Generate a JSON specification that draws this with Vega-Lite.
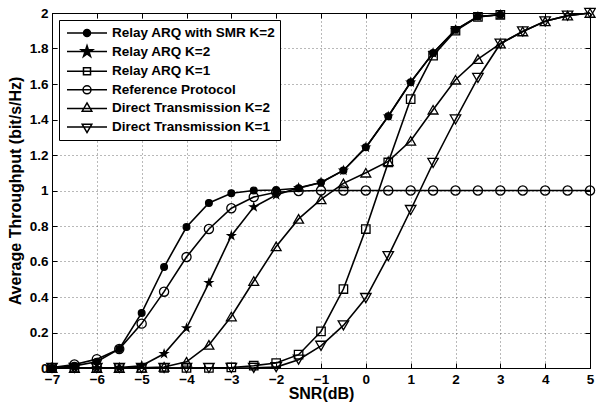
{
  "$schema": "https://vega.github.io/schema/vega-lite/v6.json",
  "autosize": "none",
  "width": 538,
  "height": 355,
  "padding": {"left": 52, "top": 13, "right": 6, "bottom": 40},
  "background": "white",
  "config": {
    "font": "Liberation Sans",
    "view": {"stroke": "black", "strokeWidth": 1},
    "legend": {
      "labelFont": "Liberation Sans", "labelFontSize": 13.5, "labelFontWeight": "bold", "labelColor": "black",
      "labelLimit": 400
    },
    "axis": {
      "domainColor": "black",
      "tickColor": "black",
      "labelColor": "black",
      "titleColor": "black",
      "labelFont": "Liberation Sans",
      "titleFont": "Liberation Sans",
      "labelFontWeight": "bold",
      "titleFontWeight": "bold",
      "labelFontSize": 13.5,
      "titleFontSize": 16,
      "tickSize": -5,
      "labelPadding": 9,
      "labelFlush": false,
      "labelOverlap": false
    }
  },
  "data": {
    "values": [
      {"s": "Relay ARQ with SMR K=2", "x": -7, "y": 0},
      {"s": "Relay ARQ with SMR K=2", "x": -6.5, "y": 0.012},
      {"s": "Relay ARQ with SMR K=2", "x": -6, "y": 0.035},
      {"s": "Relay ARQ with SMR K=2", "x": -5.5, "y": 0.107},
      {"s": "Relay ARQ with SMR K=2", "x": -5, "y": 0.31},
      {"s": "Relay ARQ with SMR K=2", "x": -4.5, "y": 0.569},
      {"s": "Relay ARQ with SMR K=2", "x": -4, "y": 0.794},
      {"s": "Relay ARQ with SMR K=2", "x": -3.5, "y": 0.93},
      {"s": "Relay ARQ with SMR K=2", "x": -3, "y": 0.985},
      {"s": "Relay ARQ with SMR K=2", "x": -2.5, "y": 1.0},
      {"s": "Relay ARQ with SMR K=2", "x": -2, "y": 1.003},
      {"s": "Relay ARQ with SMR K=2", "x": -1.5, "y": 1.013},
      {"s": "Relay ARQ with SMR K=2", "x": -1, "y": 1.045},
      {"s": "Relay ARQ with SMR K=2", "x": -0.5, "y": 1.113},
      {"s": "Relay ARQ with SMR K=2", "x": 0, "y": 1.243},
      {"s": "Relay ARQ with SMR K=2", "x": 0.5, "y": 1.418},
      {"s": "Relay ARQ with SMR K=2", "x": 1, "y": 1.61},
      {"s": "Relay ARQ with SMR K=2", "x": 1.5, "y": 1.775},
      {"s": "Relay ARQ with SMR K=2", "x": 2, "y": 1.905},
      {"s": "Relay ARQ with SMR K=2", "x": 2.5, "y": 1.98},
      {"s": "Relay ARQ with SMR K=2", "x": 3, "y": 1.99},

      {"s": "Relay ARQ K=2", "x": -7, "y": 0},
      {"s": "Relay ARQ K=2", "x": -6.5, "y": 0},
      {"s": "Relay ARQ K=2", "x": -6, "y": 0},
      {"s": "Relay ARQ K=2", "x": -5.5, "y": 0.002},
      {"s": "Relay ARQ K=2", "x": -5, "y": 0.013},
      {"s": "Relay ARQ K=2", "x": -4.5, "y": 0.08},
      {"s": "Relay ARQ K=2", "x": -4, "y": 0.225},
      {"s": "Relay ARQ K=2", "x": -3.5, "y": 0.48},
      {"s": "Relay ARQ K=2", "x": -3, "y": 0.745},
      {"s": "Relay ARQ K=2", "x": -2.5, "y": 0.907},
      {"s": "Relay ARQ K=2", "x": -2, "y": 0.975},
      {"s": "Relay ARQ K=2", "x": -1.5, "y": 1.015},
      {"s": "Relay ARQ K=2", "x": -1, "y": 1.045},
      {"s": "Relay ARQ K=2", "x": -0.5, "y": 1.113},
      {"s": "Relay ARQ K=2", "x": 0, "y": 1.243},
      {"s": "Relay ARQ K=2", "x": 0.5, "y": 1.418},
      {"s": "Relay ARQ K=2", "x": 1, "y": 1.61},
      {"s": "Relay ARQ K=2", "x": 1.5, "y": 1.775},
      {"s": "Relay ARQ K=2", "x": 2, "y": 1.905},
      {"s": "Relay ARQ K=2", "x": 2.5, "y": 1.98},
      {"s": "Relay ARQ K=2", "x": 3, "y": 1.99},

      {"s": "Relay ARQ K=1", "x": -7, "y": 0},
      {"s": "Relay ARQ K=1", "x": -6.5, "y": 0},
      {"s": "Relay ARQ K=1", "x": -6, "y": 0},
      {"s": "Relay ARQ K=1", "x": -5.5, "y": 0},
      {"s": "Relay ARQ K=1", "x": -5, "y": 0},
      {"s": "Relay ARQ K=1", "x": -4.5, "y": 0},
      {"s": "Relay ARQ K=1", "x": -4, "y": 0},
      {"s": "Relay ARQ K=1", "x": -3.5, "y": 0.001},
      {"s": "Relay ARQ K=1", "x": -3, "y": 0.003},
      {"s": "Relay ARQ K=1", "x": -2.5, "y": 0.013},
      {"s": "Relay ARQ K=1", "x": -2, "y": 0.028},
      {"s": "Relay ARQ K=1", "x": -1.5, "y": 0.075},
      {"s": "Relay ARQ K=1", "x": -1, "y": 0.206},
      {"s": "Relay ARQ K=1", "x": -0.5, "y": 0.445},
      {"s": "Relay ARQ K=1", "x": 0, "y": 0.783},
      {"s": "Relay ARQ K=1", "x": 0.5, "y": 1.158},
      {"s": "Relay ARQ K=1", "x": 1, "y": 1.515},
      {"s": "Relay ARQ K=1", "x": 1.5, "y": 1.76},
      {"s": "Relay ARQ K=1", "x": 2, "y": 1.9},
      {"s": "Relay ARQ K=1", "x": 2.5, "y": 1.978},
      {"s": "Relay ARQ K=1", "x": 3, "y": 1.99},

      {"s": "Reference Protocol", "x": -7, "y": 0.002},
      {"s": "Reference Protocol", "x": -6.5, "y": 0.02},
      {"s": "Reference Protocol", "x": -6, "y": 0.05},
      {"s": "Reference Protocol", "x": -5.5, "y": 0.107},
      {"s": "Reference Protocol", "x": -5, "y": 0.25},
      {"s": "Reference Protocol", "x": -4.5, "y": 0.43},
      {"s": "Reference Protocol", "x": -4, "y": 0.625},
      {"s": "Reference Protocol", "x": -3.5, "y": 0.783},
      {"s": "Reference Protocol", "x": -3, "y": 0.9},
      {"s": "Reference Protocol", "x": -2.5, "y": 0.963},
      {"s": "Reference Protocol", "x": -2, "y": 0.99},
      {"s": "Reference Protocol", "x": -1.5, "y": 0.997},
      {"s": "Reference Protocol", "x": -1, "y": 1},
      {"s": "Reference Protocol", "x": -0.5, "y": 1},
      {"s": "Reference Protocol", "x": 0, "y": 1},
      {"s": "Reference Protocol", "x": 0.5, "y": 1},
      {"s": "Reference Protocol", "x": 1, "y": 1},
      {"s": "Reference Protocol", "x": 1.5, "y": 1},
      {"s": "Reference Protocol", "x": 2, "y": 1},
      {"s": "Reference Protocol", "x": 2.5, "y": 1},
      {"s": "Reference Protocol", "x": 3, "y": 1},
      {"s": "Reference Protocol", "x": 3.5, "y": 1},
      {"s": "Reference Protocol", "x": 4, "y": 1},
      {"s": "Reference Protocol", "x": 4.5, "y": 1},
      {"s": "Reference Protocol", "x": 5, "y": 1},

      {"s": "Direct Transmission K=2", "x": -7, "y": 0},
      {"s": "Direct Transmission K=2", "x": -6.5, "y": 0},
      {"s": "Direct Transmission K=2", "x": -6, "y": 0},
      {"s": "Direct Transmission K=2", "x": -5.5, "y": 0},
      {"s": "Direct Transmission K=2", "x": -5, "y": 0.001},
      {"s": "Direct Transmission K=2", "x": -4.5, "y": 0.006},
      {"s": "Direct Transmission K=2", "x": -4, "y": 0.035},
      {"s": "Direct Transmission K=2", "x": -3.5, "y": 0.13},
      {"s": "Direct Transmission K=2", "x": -3, "y": 0.29},
      {"s": "Direct Transmission K=2", "x": -2.5, "y": 0.49},
      {"s": "Direct Transmission K=2", "x": -2, "y": 0.685},
      {"s": "Direct Transmission K=2", "x": -1.5, "y": 0.84},
      {"s": "Direct Transmission K=2", "x": -1, "y": 0.95},
      {"s": "Direct Transmission K=2", "x": -0.5, "y": 1.04},
      {"s": "Direct Transmission K=2", "x": 0, "y": 1.1},
      {"s": "Direct Transmission K=2", "x": 0.5, "y": 1.164},
      {"s": "Direct Transmission K=2", "x": 1, "y": 1.28},
      {"s": "Direct Transmission K=2", "x": 1.5, "y": 1.455},
      {"s": "Direct Transmission K=2", "x": 2, "y": 1.624},
      {"s": "Direct Transmission K=2", "x": 2.5, "y": 1.74},
      {"s": "Direct Transmission K=2", "x": 3, "y": 1.827},
      {"s": "Direct Transmission K=2", "x": 3.5, "y": 1.896},
      {"s": "Direct Transmission K=2", "x": 4, "y": 1.953},
      {"s": "Direct Transmission K=2", "x": 4.5, "y": 1.985},
      {"s": "Direct Transmission K=2", "x": 5, "y": 2.0},

      {"s": "Direct Transmission K=1", "x": -7, "y": 0},
      {"s": "Direct Transmission K=1", "x": -6.5, "y": 0},
      {"s": "Direct Transmission K=1", "x": -6, "y": 0},
      {"s": "Direct Transmission K=1", "x": -5.5, "y": 0},
      {"s": "Direct Transmission K=1", "x": -5, "y": 0},
      {"s": "Direct Transmission K=1", "x": -4.5, "y": 0},
      {"s": "Direct Transmission K=1", "x": -4, "y": 0},
      {"s": "Direct Transmission K=1", "x": -3.5, "y": 0},
      {"s": "Direct Transmission K=1", "x": -3, "y": 0},
      {"s": "Direct Transmission K=1", "x": -2.5, "y": 0.001},
      {"s": "Direct Transmission K=1", "x": -2, "y": 0.005},
      {"s": "Direct Transmission K=1", "x": -1.5, "y": 0.047},
      {"s": "Direct Transmission K=1", "x": -1, "y": 0.125},
      {"s": "Direct Transmission K=1", "x": -0.5, "y": 0.24},
      {"s": "Direct Transmission K=1", "x": 0, "y": 0.394},
      {"s": "Direct Transmission K=1", "x": 0.5, "y": 0.63},
      {"s": "Direct Transmission K=1", "x": 1, "y": 0.89},
      {"s": "Direct Transmission K=1", "x": 1.5, "y": 1.155},
      {"s": "Direct Transmission K=1", "x": 2, "y": 1.4},
      {"s": "Direct Transmission K=1", "x": 2.5, "y": 1.634},
      {"s": "Direct Transmission K=1", "x": 3, "y": 1.827},
      {"s": "Direct Transmission K=1", "x": 3.5, "y": 1.896},
      {"s": "Direct Transmission K=1", "x": 4, "y": 1.953},
      {"s": "Direct Transmission K=1", "x": 4.5, "y": 1.985},
      {"s": "Direct Transmission K=1", "x": 5, "y": 2.0}
    ]
  },
  "resolve": {
    "scale": {"shape": "independent", "fill": "independent", "size": "independent"},
    "axis": {"x": "independent", "y": "independent"}
  },
  "layer": [
    {
      "mark": {"type": "line", "color": "black", "strokeWidth": 1.6},
      "encoding": {
        "x": {
          "field": "x", "type": "quantitative",
          "scale": {"domain": [-7, 5], "nice": false, "zero": false},
          "axis": {
            "orient": "bottom",
            "values": [-7, -6, -5, -4, -3, -2, -1, 0, 1, 2, 3, 4, 5],
            "format": "d",
            "title": "SNR(dB)",
            "titleY": 25,
            "titleBaseline": "middle",
            "grid": true,
            "gridColor": "#000000",
            "gridOpacity": 0.55,
            "gridDash": [1, 3]
          }
        },
        "y": {
          "field": "y", "type": "quantitative",
          "scale": {"domain": [0, 2], "nice": false, "zero": false},
          "axis": {
            "orient": "left",
            "values": [0, 0.2, 0.4, 0.6, 0.8, 1, 1.2, 1.4, 1.6, 1.8, 2],
            "format": "~g",
            "title": "Average Throughput (bit/s/Hz)",
            "titleX": -37,
            "titleY": 177.5,
            "titleAngle": -90,
            "titleAlign": "center",
            "titleBaseline": "middle",
            "grid": true,
            "gridColor": "#000000",
            "gridOpacity": 0.55,
            "gridDash": [1, 3]
          }
        },
        "detail": {"field": "s", "type": "nominal"}
      }
    },
    {
      "mark": {"type": "point", "filled": true, "stroke": "black", "strokeWidth": 1.3, "opacity": 1},
      "encoding": {
        "x": {"field": "x", "type": "quantitative", "axis": null},
        "y": {"field": "y", "type": "quantitative", "axis": null},
        "shape": {
          "field": "s", "type": "nominal",
          "scale": {
            "domain": ["Relay ARQ with SMR K=2", "Relay ARQ K=2", "Relay ARQ K=1", "Reference Protocol", "Direct Transmission K=2", "Direct Transmission K=1"],
            "range": ["circle", "M0,-1L0.2245,-0.309L0.951,-0.309L0.363,0.118L0.588,0.809L0,0.382L-0.588,0.809L-0.363,0.118L-0.951,-0.309L-0.2245,-0.309Z", "square", "circle", "triangle-up", "triangle-down"]
          },
          "legend": null
        },
        "fill": {
          "field": "s", "type": "nominal",
          "scale": {
            "domain": ["Relay ARQ with SMR K=2", "Relay ARQ K=2", "Relay ARQ K=1", "Reference Protocol", "Direct Transmission K=2", "Direct Transmission K=1"],
            "range": ["black", "black", "transparent", "transparent", "transparent", "transparent"]
          },
          "legend": null
        },
        "size": {
          "field": "s", "type": "nominal",
          "scale": {
            "domain": ["Relay ARQ with SMR K=2", "Relay ARQ K=2", "Relay ARQ K=1", "Reference Protocol", "Direct Transmission K=2", "Direct Transmission K=1"],
            "range": [45, 110, 42, 64, 80, 80]
          },
          "legend": null
        }
      }
    },
    {
      "transform": [{"filter": "false"}],
      "mark": {"type": "point", "filled": true, "stroke": "black", "strokeWidth": 1.5},
      "encoding": {
        "x": {"field": "x", "type": "quantitative", "axis": null},
        "y": {"field": "y", "type": "quantitative", "axis": null},
        "shape": {
          "field": "s", "type": "nominal",
          "scale": {
            "domain": ["Relay ARQ with SMR K=2", "Relay ARQ K=2", "Relay ARQ K=1", "Reference Protocol", "Direct Transmission K=2", "Direct Transmission K=1"],
            "range": [
              "M-2.5,0H2.5M0.44,0A0.44,0.44,0,1,1,-0.44,0A0.44,0.44,0,1,1,0.44,0Z",
              "M-2.5,0H2.5M0,-0.75L0.168,-0.232L0.713,-0.232L0.272,0.089L0.441,0.607L0,0.287L-0.441,0.607L-0.272,0.089L-0.713,-0.232L-0.168,-0.232Z",
              "M-2.5,0H2.5M-0.44,-0.44H0.44V0.44H-0.44Z",
              "M-2.5,0H2.5M0.5,0A0.5,0.5,0,1,1,-0.5,0A0.5,0.5,0,1,1,0.5,0Z",
              "M-2.5,0H2.5M0,-0.69L0.6,0.345L-0.6,0.345Z",
              "M-2.5,0H2.5M0,0.69L0.6,-0.345L-0.6,-0.345Z"
            ]
          },
          "legend": {
            "orient": "top-left", "offset": 7, "title": null,
            "symbolSize": 256, "symbolStrokeWidth": 1.5, "symbolStrokeColor": "black", "symbolOpacity": 1,
            "symbolOffset": 15,
            "labelFont": "Liberation Sans", "labelFontSize": 13.5, "labelFontWeight": "bold", "labelColor": "black",
            "labelOffset": 16, "labelLimit": 400, "padding": 4, "rowPadding": 2.6,
            "strokeColor": "black", "fillColor": "white", "cornerRadius": 0,
            "encode": {"symbols": {"update": {"stroke": {"value": "black"}, "strokeWidth": {"value": 1.5}, "opacity": {"value": 1}}}}
          }
        },
        "fill": {
          "field": "s", "type": "nominal",
          "scale": {
            "domain": ["Relay ARQ with SMR K=2", "Relay ARQ K=2", "Relay ARQ K=1", "Reference Protocol", "Direct Transmission K=2", "Direct Transmission K=1"],
            "range": ["black", "black", "transparent", "transparent", "transparent", "transparent"]
          },
          "legend": {
            "orient": "top-left", "offset": 7, "title": null,
            "symbolSize": 256, "symbolStrokeWidth": 1.5, "symbolStrokeColor": "black", "symbolOpacity": 1,
            "symbolOffset": 15,
            "labelFont": "Liberation Sans", "labelFontSize": 13.5, "labelFontWeight": "bold", "labelColor": "black",
            "labelOffset": 16, "labelLimit": 400, "padding": 4, "rowPadding": 2.6,
            "strokeColor": "black", "fillColor": "white", "cornerRadius": 0,
            "encode": {"symbols": {"update": {"stroke": {"value": "black"}, "strokeWidth": {"value": 1.5}, "opacity": {"value": 1}}}}
          }
        }
      }
    },
    {
      "transform": [{"filter": "false"}],
      "mark": {"type": "point"},
      "encoding": {
        "x": {
          "field": "x", "type": "quantitative",
          "axis": {"orient": "top", "values": [-7, -6, -5, -4, -3, -2, -1, 0, 1, 2, 3, 4, 5], "labels": false, "title": null, "grid": false}
        },
        "y": {
          "field": "y", "type": "quantitative",
          "axis": {"orient": "right", "values": [0, 0.2, 0.4, 0.6, 0.8, 1, 1.2, 1.4, 1.6, 1.8, 2], "labels": false, "title": null, "grid": false}
        }
      }
    }
  ]
}
